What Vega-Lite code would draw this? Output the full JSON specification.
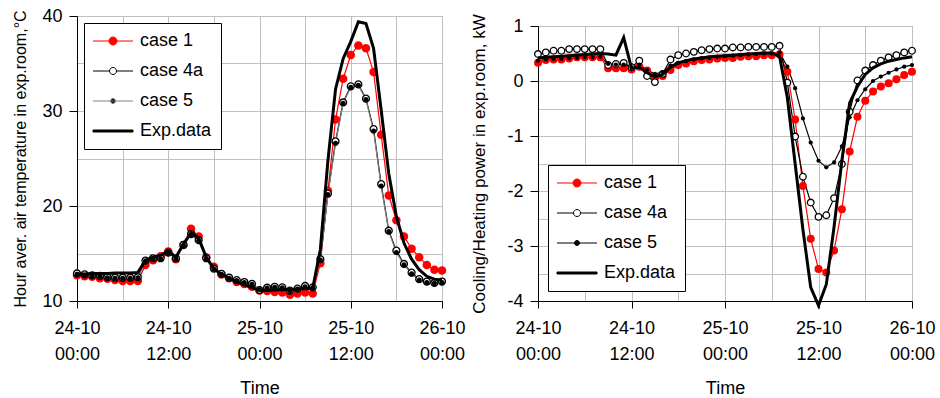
{
"$schema": "https://vega.github.io/schema/vega-lite/v6.json",
"background": "white",
"padding": {"left": 12, "top": 6, "right": 5, "bottom": 0},
"config": {
  "font": "Liberation Sans",
  "view": {"stroke": "#999999", "strokeWidth": 1},
  "axis": {"labelFont": "Liberation Sans", "labelFontSize": 18, "labelColor": "#000000", "titleFont": "Liberation Sans", "titleFontWeight": "normal", "titleColor": "#000000", "domainColor": "#000000", "tickColor": "#000000", "gridColor": "#c0c0c0", "gridWidth": 1, "tickSize": 8, "labelOverlap": false, "labelFlush": false, "labelBound": false}
},
"datasets": {
"temp": [
{"h":0,"s":"case 1","v":12.7},{"h":1,"s":"case 1","v":12.6},{"h":2,"s":"case 1","v":12.55},{"h":3,"s":"case 1","v":12.4},{"h":4,"s":"case 1","v":12.35},{"h":5,"s":"case 1","v":12.2},{"h":6,"s":"case 1","v":12.1},{"h":7,"s":"case 1","v":12.1},{"h":8,"s":"case 1","v":12.1},{"h":9,"s":"case 1","v":13.8},{"h":10,"s":"case 1","v":14.3},{"h":11,"s":"case 1","v":14.7},{"h":12,"s":"case 1","v":15.2},{"h":13,"s":"case 1","v":14.4},{"h":14,"s":"case 1","v":15.9},{"h":15,"s":"case 1","v":17.6},{"h":16,"s":"case 1","v":16.8},{"h":17,"s":"case 1","v":14.6},{"h":18,"s":"case 1","v":13.6},{"h":19,"s":"case 1","v":12.8},{"h":20,"s":"case 1","v":12.4},{"h":21,"s":"case 1","v":12.0},{"h":22,"s":"case 1","v":11.8},{"h":23,"s":"case 1","v":11.5},{"h":24,"s":"case 1","v":11.1},{"h":25,"s":"case 1","v":11.05},{"h":26,"s":"case 1","v":10.95},{"h":27,"s":"case 1","v":10.9},{"h":28,"s":"case 1","v":10.65},{"h":29,"s":"case 1","v":10.8},{"h":30,"s":"case 1","v":10.9},{"h":31,"s":"case 1","v":10.8},{"h":32,"s":"case 1","v":13.97},{"h":33,"s":"case 1","v":21.6},{"h":34,"s":"case 1","v":29.1},{"h":35,"s":"case 1","v":33.4},{"h":36,"s":"case 1","v":35.9},{"h":37,"s":"case 1","v":36.9},{"h":38,"s":"case 1","v":36.6},{"h":39,"s":"case 1","v":34.1},{"h":40,"s":"case 1","v":27.5},{"h":41,"s":"case 1","v":21.1},{"h":42,"s":"case 1","v":18.5},{"h":43,"s":"case 1","v":16.8},{"h":44,"s":"case 1","v":15.5},{"h":45,"s":"case 1","v":14.6},{"h":46,"s":"case 1","v":13.8},{"h":47,"s":"case 1","v":13.3},{"h":48,"s":"case 1","v":13.2},
{"h":0,"s":"case 4a","v":12.9},{"h":1,"s":"case 4a","v":12.8},{"h":2,"s":"case 4a","v":12.7},{"h":3,"s":"case 4a","v":12.65},{"h":4,"s":"case 4a","v":12.5},{"h":5,"s":"case 4a","v":12.45},{"h":6,"s":"case 4a","v":12.45},{"h":7,"s":"case 4a","v":12.45},{"h":8,"s":"case 4a","v":12.5},{"h":9,"s":"case 4a","v":14.25},{"h":10,"s":"case 4a","v":14.5},{"h":11,"s":"case 4a","v":14.5},{"h":12,"s":"case 4a","v":15.1},{"h":13,"s":"case 4a","v":14.5},{"h":14,"s":"case 4a","v":15.9},{"h":15,"s":"case 4a","v":17.05},{"h":16,"s":"case 4a","v":16.4},{"h":17,"s":"case 4a","v":14.5},{"h":18,"s":"case 4a","v":13.4},{"h":19,"s":"case 4a","v":12.85},{"h":20,"s":"case 4a","v":12.45},{"h":21,"s":"case 4a","v":12.2},{"h":22,"s":"case 4a","v":12.0},{"h":23,"s":"case 4a","v":11.8},{"h":24,"s":"case 4a","v":11.15},{"h":25,"s":"case 4a","v":11.4},{"h":26,"s":"case 4a","v":11.5},{"h":27,"s":"case 4a","v":11.44},{"h":28,"s":"case 4a","v":11.1},{"h":29,"s":"case 4a","v":11.3},{"h":30,"s":"case 4a","v":11.58},{"h":31,"s":"case 4a","v":11.44},{"h":32,"s":"case 4a","v":14.4},{"h":33,"s":"case 4a","v":21.3},{"h":34,"s":"case 4a","v":26.8},{"h":35,"s":"case 4a","v":30.9},{"h":36,"s":"case 4a","v":32.6},{"h":37,"s":"case 4a","v":32.8},{"h":38,"s":"case 4a","v":31.3},{"h":39,"s":"case 4a","v":28.1},{"h":40,"s":"case 4a","v":22.3},{"h":41,"s":"case 4a","v":17.4},{"h":42,"s":"case 4a","v":15.3},{"h":43,"s":"case 4a","v":13.9},{"h":44,"s":"case 4a","v":12.98},{"h":45,"s":"case 4a","v":12.3},{"h":46,"s":"case 4a","v":12.05},{"h":47,"s":"case 4a","v":11.9},{"h":48,"s":"case 4a","v":12.05},
{"h":0,"s":"case 5","v":12.8},{"h":1,"s":"case 5","v":12.7},{"h":2,"s":"case 5","v":12.65},{"h":3,"s":"case 5","v":12.6},{"h":4,"s":"case 5","v":12.45},{"h":5,"s":"case 5","v":12.4},{"h":6,"s":"case 5","v":12.4},{"h":7,"s":"case 5","v":12.4},{"h":8,"s":"case 5","v":12.45},{"h":9,"s":"case 5","v":14.2},{"h":10,"s":"case 5","v":14.45},{"h":11,"s":"case 5","v":14.45},{"h":12,"s":"case 5","v":15.05},{"h":13,"s":"case 5","v":14.45},{"h":14,"s":"case 5","v":15.85},{"h":15,"s":"case 5","v":17.0},{"h":16,"s":"case 5","v":16.35},{"h":17,"s":"case 5","v":14.45},{"h":18,"s":"case 5","v":13.35},{"h":19,"s":"case 5","v":12.8},{"h":20,"s":"case 5","v":12.4},{"h":21,"s":"case 5","v":12.15},{"h":22,"s":"case 5","v":11.95},{"h":23,"s":"case 5","v":11.75},{"h":24,"s":"case 5","v":11.2},{"h":25,"s":"case 5","v":11.35},{"h":26,"s":"case 5","v":11.45},{"h":27,"s":"case 5","v":11.4},{"h":28,"s":"case 5","v":11.1},{"h":29,"s":"case 5","v":11.25},{"h":30,"s":"case 5","v":11.5},{"h":31,"s":"case 5","v":11.4},{"h":32,"s":"case 5","v":14.3},{"h":33,"s":"case 5","v":21.2},{"h":34,"s":"case 5","v":26.6},{"h":35,"s":"case 5","v":30.8},{"h":36,"s":"case 5","v":32.5},{"h":37,"s":"case 5","v":32.7},{"h":38,"s":"case 5","v":31.2},{"h":39,"s":"case 5","v":27.9},{"h":40,"s":"case 5","v":22.1},{"h":41,"s":"case 5","v":17.3},{"h":42,"s":"case 5","v":15.1},{"h":43,"s":"case 5","v":13.8},{"h":44,"s":"case 5","v":12.85},{"h":45,"s":"case 5","v":12.2},{"h":46,"s":"case 5","v":11.95},{"h":47,"s":"case 5","v":11.85},{"h":48,"s":"case 5","v":11.95},
{"h":0,"s":"Exp.data","v":12.85},{"h":1,"s":"Exp.data","v":12.85},{"h":2,"s":"Exp.data","v":12.9},{"h":3,"s":"Exp.data","v":12.9},{"h":4,"s":"Exp.data","v":12.9},{"h":5,"s":"Exp.data","v":12.95},{"h":6,"s":"Exp.data","v":12.95},{"h":7,"s":"Exp.data","v":12.95},{"h":8,"s":"Exp.data","v":13.0},{"h":9,"s":"Exp.data","v":14.3},{"h":10,"s":"Exp.data","v":14.6},{"h":11,"s":"Exp.data","v":14.8},{"h":12,"s":"Exp.data","v":15.3},{"h":13,"s":"Exp.data","v":14.6},{"h":14,"s":"Exp.data","v":16.0},{"h":15,"s":"Exp.data","v":17.2},{"h":16,"s":"Exp.data","v":16.6},{"h":17,"s":"Exp.data","v":14.6},{"h":18,"s":"Exp.data","v":13.4},{"h":19,"s":"Exp.data","v":12.8},{"h":20,"s":"Exp.data","v":12.4},{"h":21,"s":"Exp.data","v":12.0},{"h":22,"s":"Exp.data","v":11.7},{"h":23,"s":"Exp.data","v":11.4},{"h":24,"s":"Exp.data","v":11.1},{"h":25,"s":"Exp.data","v":11.1},{"h":26,"s":"Exp.data","v":11.15},{"h":27,"s":"Exp.data","v":11.2},{"h":28,"s":"Exp.data","v":11.2},{"h":29,"s":"Exp.data","v":11.25},{"h":30,"s":"Exp.data","v":11.3},{"h":31,"s":"Exp.data","v":11.35},{"h":32,"s":"Exp.data","v":15.4},{"h":33,"s":"Exp.data","v":24.8},{"h":34,"s":"Exp.data","v":32.3},{"h":35,"s":"Exp.data","v":35.5},{"h":36,"s":"Exp.data","v":37.3},{"h":37,"s":"Exp.data","v":39.4},{"h":38,"s":"Exp.data","v":39.2},{"h":39,"s":"Exp.data","v":36.6},{"h":40,"s":"Exp.data","v":30.1},{"h":41,"s":"Exp.data","v":23.4},{"h":42,"s":"Exp.data","v":18.9},{"h":43,"s":"Exp.data","v":16.1},{"h":44,"s":"Exp.data","v":14.4},{"h":45,"s":"Exp.data","v":13.3},{"h":46,"s":"Exp.data","v":12.6},{"h":47,"s":"Exp.data","v":12.3},{"h":48,"s":"Exp.data","v":12.2}
],
"power": [
{"h":0,"s":"case 1","v":0.33},{"h":1,"s":"case 1","v":0.38},{"h":2,"s":"case 1","v":0.39},{"h":3,"s":"case 1","v":0.39},{"h":4,"s":"case 1","v":0.41},{"h":5,"s":"case 1","v":0.43},{"h":6,"s":"case 1","v":0.43},{"h":7,"s":"case 1","v":0.43},{"h":8,"s":"case 1","v":0.43},{"h":9,"s":"case 1","v":0.23},{"h":10,"s":"case 1","v":0.23},{"h":11,"s":"case 1","v":0.23},{"h":12,"s":"case 1","v":0.21},{"h":13,"s":"case 1","v":0.26},{"h":14,"s":"case 1","v":0.19},{"h":15,"s":"case 1","v":0.07},{"h":16,"s":"case 1","v":0.09},{"h":17,"s":"case 1","v":0.2},{"h":18,"s":"case 1","v":0.29},{"h":19,"s":"case 1","v":0.32},{"h":20,"s":"case 1","v":0.36},{"h":21,"s":"case 1","v":0.38},{"h":22,"s":"case 1","v":0.39},{"h":23,"s":"case 1","v":0.41},{"h":24,"s":"case 1","v":0.42},{"h":25,"s":"case 1","v":0.42},{"h":26,"s":"case 1","v":0.44},{"h":27,"s":"case 1","v":0.45},{"h":28,"s":"case 1","v":0.45},{"h":29,"s":"case 1","v":0.47},{"h":30,"s":"case 1","v":0.47},{"h":31,"s":"case 1","v":0.48},{"h":32,"s":"case 1","v":0.17},{"h":33,"s":"case 1","v":-0.7},{"h":34,"s":"case 1","v":-1.91},{"h":35,"s":"case 1","v":-2.87},{"h":36,"s":"case 1","v":-3.42},{"h":37,"s":"case 1","v":-3.48},{"h":38,"s":"case 1","v":-3.08},{"h":39,"s":"case 1","v":-2.33},{"h":40,"s":"case 1","v":-1.28},{"h":41,"s":"case 1","v":-0.65},{"h":42,"s":"case 1","v":-0.36},{"h":43,"s":"case 1","v":-0.19},{"h":44,"s":"case 1","v":-0.1},{"h":45,"s":"case 1","v":-0.04},{"h":46,"s":"case 1","v":0.03},{"h":47,"s":"case 1","v":0.11},{"h":48,"s":"case 1","v":0.17},
{"h":0,"s":"case 4a","v":0.49},{"h":1,"s":"case 4a","v":0.52},{"h":2,"s":"case 4a","v":0.55},{"h":3,"s":"case 4a","v":0.55},{"h":4,"s":"case 4a","v":0.58},{"h":5,"s":"case 4a","v":0.58},{"h":6,"s":"case 4a","v":0.58},{"h":7,"s":"case 4a","v":0.58},{"h":8,"s":"case 4a","v":0.58},{"h":9,"s":"case 4a","v":0.29},{"h":10,"s":"case 4a","v":0.31},{"h":11,"s":"case 4a","v":0.33},{"h":12,"s":"case 4a","v":0.25},{"h":13,"s":"case 4a","v":0.37},{"h":14,"s":"case 4a","v":0.09},{"h":15,"s":"case 4a","v":-0.02},{"h":16,"s":"case 4a","v":0.13},{"h":17,"s":"case 4a","v":0.39},{"h":18,"s":"case 4a","v":0.47},{"h":19,"s":"case 4a","v":0.5},{"h":20,"s":"case 4a","v":0.53},{"h":21,"s":"case 4a","v":0.56},{"h":22,"s":"case 4a","v":0.58},{"h":23,"s":"case 4a","v":0.59},{"h":24,"s":"case 4a","v":0.59},{"h":25,"s":"case 4a","v":0.61},{"h":26,"s":"case 4a","v":0.61},{"h":27,"s":"case 4a","v":0.62},{"h":28,"s":"case 4a","v":0.62},{"h":29,"s":"case 4a","v":0.62},{"h":30,"s":"case 4a","v":0.62},{"h":31,"s":"case 4a","v":0.64},{"h":32,"s":"case 4a","v":-0.03},{"h":33,"s":"case 4a","v":-1.01},{"h":34,"s":"case 4a","v":-1.74},{"h":35,"s":"case 4a","v":-2.21},{"h":36,"s":"case 4a","v":-2.47},{"h":37,"s":"case 4a","v":-2.44},{"h":38,"s":"case 4a","v":-2.13},{"h":39,"s":"case 4a","v":-1.51},{"h":40,"s":"case 4a","v":-0.56},{"h":41,"s":"case 4a","v":0.01},{"h":42,"s":"case 4a","v":0.19},{"h":43,"s":"case 4a","v":0.29},{"h":44,"s":"case 4a","v":0.37},{"h":45,"s":"case 4a","v":0.43},{"h":46,"s":"case 4a","v":0.47},{"h":47,"s":"case 4a","v":0.52},{"h":48,"s":"case 4a","v":0.55},
{"h":0,"s":"case 5","v":0.37},{"h":1,"s":"case 5","v":0.39},{"h":2,"s":"case 5","v":0.4},{"h":3,"s":"case 5","v":0.4},{"h":4,"s":"case 5","v":0.41},{"h":5,"s":"case 5","v":0.42},{"h":6,"s":"case 5","v":0.43},{"h":7,"s":"case 5","v":0.43},{"h":8,"s":"case 5","v":0.44},{"h":9,"s":"case 5","v":0.31},{"h":10,"s":"case 5","v":0.3},{"h":11,"s":"case 5","v":0.3},{"h":12,"s":"case 5","v":0.25},{"h":13,"s":"case 5","v":0.3},{"h":14,"s":"case 5","v":0.2},{"h":15,"s":"case 5","v":0.13},{"h":16,"s":"case 5","v":0.16},{"h":17,"s":"case 5","v":0.28},{"h":18,"s":"case 5","v":0.33},{"h":19,"s":"case 5","v":0.36},{"h":20,"s":"case 5","v":0.39},{"h":21,"s":"case 5","v":0.41},{"h":22,"s":"case 5","v":0.42},{"h":23,"s":"case 5","v":0.44},{"h":24,"s":"case 5","v":0.45},{"h":25,"s":"case 5","v":0.46},{"h":26,"s":"case 5","v":0.47},{"h":27,"s":"case 5","v":0.48},{"h":28,"s":"case 5","v":0.49},{"h":29,"s":"case 5","v":0.5},{"h":30,"s":"case 5","v":0.5},{"h":31,"s":"case 5","v":0.52},{"h":32,"s":"case 5","v":0.26},{"h":33,"s":"case 5","v":-0.13},{"h":34,"s":"case 5","v":-0.68},{"h":35,"s":"case 5","v":-1.12},{"h":36,"s":"case 5","v":-1.45},{"h":37,"s":"case 5","v":-1.57},{"h":38,"s":"case 5","v":-1.48},{"h":39,"s":"case 5","v":-1.19},{"h":40,"s":"case 5","v":-0.66},{"h":41,"s":"case 5","v":-0.35},{"h":42,"s":"case 5","v":-0.15},{"h":43,"s":"case 5","v":0.0},{"h":44,"s":"case 5","v":0.08},{"h":45,"s":"case 5","v":0.15},{"h":46,"s":"case 5","v":0.21},{"h":47,"s":"case 5","v":0.26},{"h":48,"s":"case 5","v":0.29},
{"h":0,"s":"Exp.data","v":0.42},{"h":1,"s":"Exp.data","v":0.43},{"h":2,"s":"Exp.data","v":0.44},{"h":3,"s":"Exp.data","v":0.45},{"h":4,"s":"Exp.data","v":0.46},{"h":5,"s":"Exp.data","v":0.47},{"h":6,"s":"Exp.data","v":0.48},{"h":7,"s":"Exp.data","v":0.49},{"h":8,"s":"Exp.data","v":0.5},{"h":9,"s":"Exp.data","v":0.49},{"h":10,"s":"Exp.data","v":0.47},{"h":11,"s":"Exp.data","v":0.79},{"h":12,"s":"Exp.data","v":0.23},{"h":13,"s":"Exp.data","v":0.25},{"h":14,"s":"Exp.data","v":0.15},{"h":15,"s":"Exp.data","v":0.08},{"h":16,"s":"Exp.data","v":0.12},{"h":17,"s":"Exp.data","v":0.25},{"h":18,"s":"Exp.data","v":0.33},{"h":19,"s":"Exp.data","v":0.37},{"h":20,"s":"Exp.data","v":0.4},{"h":21,"s":"Exp.data","v":0.42},{"h":22,"s":"Exp.data","v":0.44},{"h":23,"s":"Exp.data","v":0.45},{"h":24,"s":"Exp.data","v":0.46},{"h":25,"s":"Exp.data","v":0.47},{"h":26,"s":"Exp.data","v":0.48},{"h":27,"s":"Exp.data","v":0.49},{"h":28,"s":"Exp.data","v":0.5},{"h":29,"s":"Exp.data","v":0.51},{"h":30,"s":"Exp.data","v":0.51},{"h":31,"s":"Exp.data","v":0.45},{"h":32,"s":"Exp.data","v":-0.3},{"h":33,"s":"Exp.data","v":-1.5},{"h":34,"s":"Exp.data","v":-2.7},{"h":35,"s":"Exp.data","v":-3.75},{"h":36,"s":"Exp.data","v":-4.08},{"h":37,"s":"Exp.data","v":-3.7},{"h":38,"s":"Exp.data","v":-2.65},{"h":39,"s":"Exp.data","v":-1.45},{"h":40,"s":"Exp.data","v":-0.4},{"h":41,"s":"Exp.data","v":-0.1},{"h":42,"s":"Exp.data","v":0.12},{"h":43,"s":"Exp.data","v":0.24},{"h":44,"s":"Exp.data","v":0.31},{"h":45,"s":"Exp.data","v":0.36},{"h":46,"s":"Exp.data","v":0.39},{"h":47,"s":"Exp.data","v":0.42},{"h":48,"s":"Exp.data","v":0.44}
]
},
"spacing": 4,
"bounds": "full",
"resolve": {"scale": {"stroke": "independent"}, "legend": {"stroke": "independent"}},
"hconcat": [
{
  "width": 365, "height": 285,
  "data": {"name": "temp"},
  "encoding": {
    "x": {"field": "h", "type": "quantitative", "scale": {"domain": [0, 48], "nice": false, "zero": false},
      "axis": {"values": [0,6,12,18,24,30,36,42,48], "title": "Time", "titleFontSize": 18, "titlePadding": 16, "tickSize": 7, "labelPadding": 11, "labelLineHeight": 26,
        "labelExpr": "datum.value % 12 ? '' : [datum.value < 24 ? '24-10' : (datum.value < 48 ? '25-10' : '26-10'), datum.value % 24 ? '12:00' : '00:00']",
        "tickOpacity": {"condition": {"test": "datum.value % 12 === 0", "value": 1}, "value": 0}}},
    "y": {"field": "v", "type": "quantitative", "scale": {"domain": [10, 40], "nice": false, "zero": false},
      "axis": {"values": [10,15,20,25,30,35,40], "title": "Hour aver. air temperature in exp.room,°C", "titleFontSize": 16, "titlePadding": 13, "labelPadding": 7,
        "labelExpr": "datum.value % 10 ? '' : datum.label",
        "tickOpacity": {"condition": {"test": "datum.value % 10 === 0", "value": 1}, "value": 0}}}
  },
  "layer": [
    {"transform": [{"filter": "datum.s !== 'Exp.data'"}],
     "mark": {"type": "line", "strokeWidth": 1.2},
     "encoding": {"stroke": {"field": "s", "type": "nominal",
        "scale": {"domain": ["case 1", "case 4a", "case 5", "Exp.data"], "range": ["#ff0000", "#000000", "#808080", "#000000"]},
        "legend": {"title": null, "orient": "top-left", "offset": 7, "padding": 9, "strokeColor": "#000000", "fillColor": "#ffffff",
          "labelFontSize": 18, "labelFont": "Liberation Sans", "labelColor": "#000000", "symbolSize": 256, "symbolStrokeWidth": 1, "symbolOffset": 11, "labelOffset": 18, "rowPadding": 12,
          "encode": {"symbols": {"update": {
            "shape": {"signal": "datum.value === 'Exp.data' ? 'M-2.5,-0.125H2.5V0.125H-2.5Z' : datum.value === 'case 1' ? 'M-2.5,0H2.5M0.5,0A0.5,0.5,0,1,1,-0.5,0A0.5,0.5,0,1,1,0.5,0Z' : datum.value === 'case 4a' ? 'M-2.5,0H-0.44M0.44,0H2.5M0.44,0A0.44,0.44,0,1,1,-0.44,0A0.44,0.44,0,1,1,0.44,0Z' : 'M-2.5,0H2.5M0.31,0A0.31,0.31,0,1,1,-0.31,0A0.31,0.31,0,1,1,0.31,0Z'"},
            "fill": {"signal": "datum.value === 'case 1' ? '#ff0000' : datum.value === 'case 4a' ? '#ffffff' : '#000000'"},
            "stroke": {"signal": "datum.value === 'case 1' ? '#ff0000' : datum.value === 'case 5' ? '#808080' : '#000000'"},
            "opacity": {"value": 1}, "fillOpacity": {"value": 1}, "strokeOpacity": {"value": 1}}}}}}}},
    {"transform": [{"filter": "datum.s === 'case 1'"}],
     "mark": {"type": "point", "shape": "circle", "filled": true, "color": "#ff0000", "opacity": 1, "size": 72}},
    {"transform": [{"filter": "datum.s === 'case 4a'"}],
     "mark": {"type": "point", "shape": "circle", "filled": true, "fill": "#ffffff", "stroke": "#000000", "strokeWidth": 1.3, "opacity": 1, "size": 48}},
    {"transform": [{"filter": "datum.s === 'case 5'"}],
     "mark": {"type": "point", "shape": "circle", "filled": true, "color": "#000000", "opacity": 1, "size": 26}},
    {"transform": [{"filter": "datum.s === 'Exp.data'"}],
     "mark": {"type": "line", "color": "#000000", "strokeWidth": 3}}
  ]
},
{
  "spacing": 0,
  "bounds": "flush",
  "resolve": {"scale": {"stroke": "independent"}, "legend": {"stroke": "independent"}},
  "vconcat": [
    {"width": 374, "height": 10, "data": {"values": []}, "mark": "point", "view": {"stroke": null}},
    {
      "width": 374, "height": 275,
      "data": {"name": "power"},
      "encoding": {
        "x": {"field": "h", "type": "quantitative", "scale": {"domain": [0, 48], "nice": false, "zero": false},
          "axis": {"values": [0,6,12,18,24,30,36,42,48], "title": "Time", "titleFontSize": 18, "titlePadding": 16, "tickSize": 7, "labelPadding": 11, "labelLineHeight": 26,
            "labelExpr": "datum.value % 12 ? '' : [datum.value < 24 ? '24-10' : (datum.value < 48 ? '25-10' : '26-10'), datum.value % 24 ? '12:00' : '00:00']",
            "tickOpacity": {"condition": {"test": "datum.value % 12 === 0", "value": 1}, "value": 0}}},
        "y": {"field": "v", "type": "quantitative", "scale": {"domain": [-4, 1], "nice": false, "zero": false},
          "axis": {"values": [-4,-3.5,-3,-2.5,-2,-1.5,-1,-0.5,0,0.5,1], "title": "Cooling/Heating power in exp.room, kW", "titleFontSize": 17, "titlePadding": 18, "labelPadding": 7,
            "labelExpr": "datum.value % 1 ? '' : '' + datum.value",
            "tickOpacity": {"condition": {"test": "datum.value % 1 === 0", "value": 1}, "value": 0}}}
      },
      "layer": [
        {"transform": [{"filter": "datum.s !== 'Exp.data'"}],
         "mark": {"type": "line", "strokeWidth": 1.2},
         "encoding": {"stroke": {"field": "s", "type": "nominal",
            "scale": {"domain": ["case 1", "case 4a", "case 5", "Exp.data"], "range": ["#ff0000", "#000000", "#000000", "#000000"]},
            "legend": {"title": null, "orient": "bottom-left", "offset": 10, "padding": 9, "strokeColor": "#000000", "fillColor": "#ffffff",
              "labelFontSize": 18, "labelFont": "Liberation Sans", "labelColor": "#000000", "symbolSize": 256, "symbolStrokeWidth": 1, "symbolOffset": 11, "labelOffset": 18, "rowPadding": 12,
              "encode": {"symbols": {"update": {
                "shape": {"signal": "datum.value === 'Exp.data' ? 'M-2.5,-0.125H2.5V0.125H-2.5Z' : datum.value === 'case 1' ? 'M-2.5,0H2.5M0.5,0A0.5,0.5,0,1,1,-0.5,0A0.5,0.5,0,1,1,0.5,0Z' : datum.value === 'case 4a' ? 'M-2.5,0H-0.44M0.44,0H2.5M0.44,0A0.44,0.44,0,1,1,-0.44,0A0.44,0.44,0,1,1,0.44,0Z' : 'M-2.5,0H2.5M0.31,0A0.31,0.31,0,1,1,-0.31,0A0.31,0.31,0,1,1,0.31,0Z'"},
                "fill": {"signal": "datum.value === 'case 1' ? '#ff0000' : datum.value === 'case 4a' ? '#ffffff' : '#000000'"},
                "stroke": {"signal": "datum.value === 'case 1' ? '#ff0000' : '#000000'"},
                "opacity": {"value": 1}, "fillOpacity": {"value": 1}, "strokeOpacity": {"value": 1}}}}}}}},
        {"transform": [{"filter": "datum.s === 'case 1'"}],
         "mark": {"type": "point", "shape": "circle", "filled": true, "color": "#ff0000", "opacity": 1, "size": 64}},
        {"transform": [{"filter": "datum.s === 'case 4a'"}],
         "mark": {"type": "point", "shape": "circle", "filled": true, "fill": "#ffffff", "stroke": "#000000", "strokeWidth": 1.3, "opacity": 1, "size": 44}},
        {"transform": [{"filter": "datum.s === 'case 5'"}],
         "mark": {"type": "point", "shape": "circle", "filled": true, "color": "#000000", "opacity": 1, "size": 18}},
        {"transform": [{"filter": "datum.s === 'Exp.data'"}],
         "mark": {"type": "line", "color": "#000000", "strokeWidth": 3}}
      ]
    }
  ]
}
]
}
